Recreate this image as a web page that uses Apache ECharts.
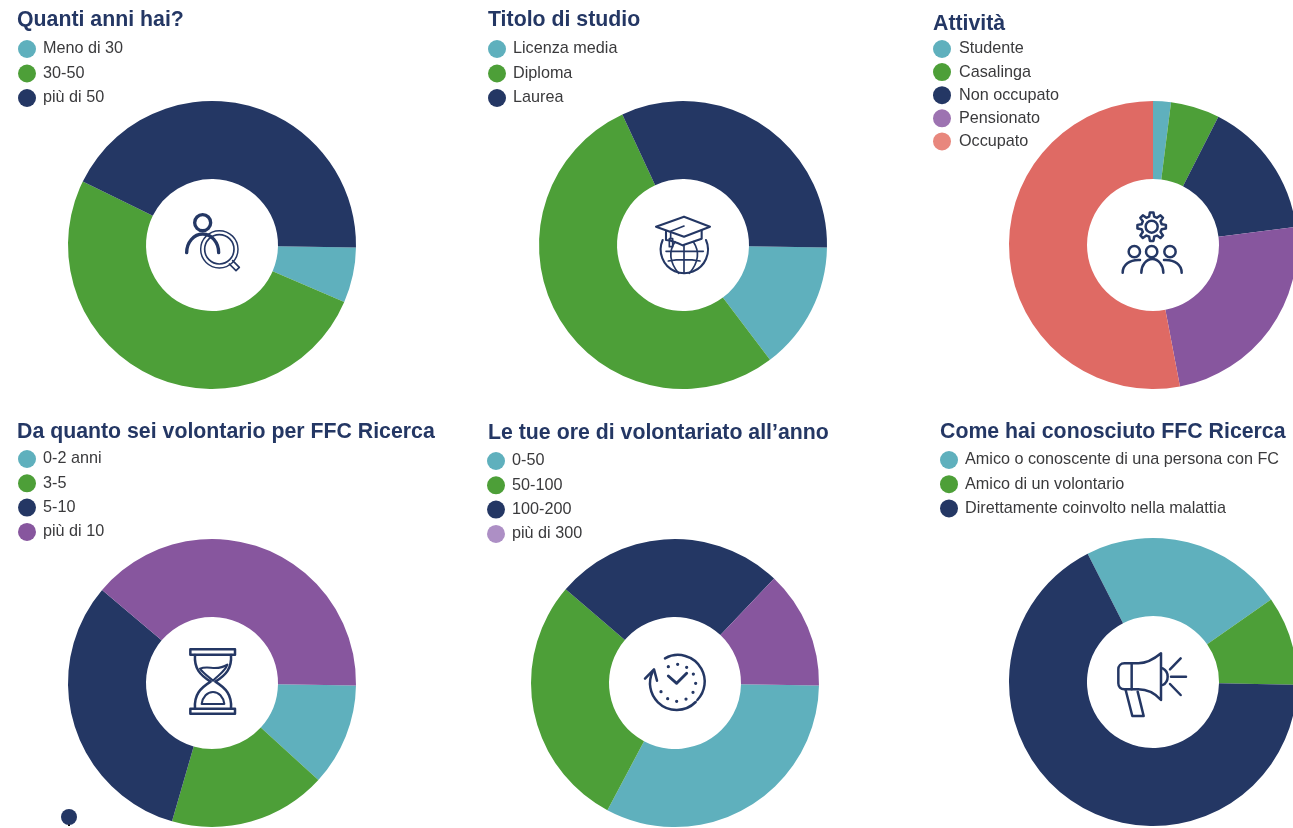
<!DOCTYPE html>
<html><head><meta charset="utf-8">
<style>html,body{margin:0;padding:0;background:#fff;overflow:hidden}#c{width:1293px;height:828px}</style>
<script src="https://cdn.jsdelivr.net/npm/echarts@6/dist/echarts.min.js"></script>
</head><body><div id="c"></div>
<script>
// Data (percent shares)
const etaNames = ['Meno di 30', '30-50', 'più di 50'];
const etaValues = [6.2, 50.8, 43];
const studioNames = ['Licenza media', 'Diploma', 'Laurea'];
const studioValues = [14.4, 53.4, 32.2];
const attivitaNames = ['Studente', 'Casalinga', 'Non occupato', 'Pensionato', 'Occupato'];
const attivitaValues = [2, 5.5, 15.5, 24, 53];
const anniNames = ['0-2 anni', '3-5', '5-10', 'più di 10'];
const anniValues = [11.5, 17.7, 31.7, 39.1];
const oreNames = ['0-50', '50-100', '100-200', 'più di 300'];
const oreValues = [32.5, 28.5, 25.8, 13.2];
const comeNames = ['Amico o conoscente di una persona con FC', 'Amico di un volontario', 'Direttamente coinvolto nella malattia'];
const comeValues = [22.8, 10, 67.2];

const titles = ['Quanti anni hai?', 'Titolo di studio', 'Attività',
  'Da quanto sei volontario per FFC Ricerca', 'Le tue ore di volontariato all’anno', 'Come hai conosciuto FFC Ricerca'];

const TEAL = '#5fb0bd', GREEN = '#4d9f38', NAVY = '#243764', PURPLE = '#87569e', CORAL = '#df6a64';
const panels = [
  {names: etaNames, values: etaValues, colors: [TEAL, GREEN, NAVY], c: [212, 245], start: -1, tx: 17, ty: 10, lx: 18, ly: 40, gap: 6.5, pad: 2},
  {names: studioNames, values: studioValues, colors: [TEAL, GREEN, NAVY], c: [683, 245], start: -1, tx: 488, ty: 10, lx: 488, ly: 40, gap: 6.5, pad: 2},
  {names: attivitaNames, values: attivitaValues, colors: [TEAL, GREEN, NAVY, PURPLE, CORAL], c: [1153, 245], start: 90, tx: 933, ty: 14, lx: 933, ly: 40, gap: 5.1, pad: 3,
    legendColors: [TEAL, GREEN, NAVY, '#9d73b1', '#e8877d']},
  {names: anniNames, values: anniValues, colors: [TEAL, GREEN, NAVY, PURPLE], c: [212, 683], start: -1, tx: 17, ty: 422, lx: 18, ly: 450, gap: 6.3, pad: 2},
  {names: oreNames, values: oreValues, colors: [TEAL, GREEN, NAVY, PURPLE], c: [675, 683], start: -1, tx: 488, ty: 423, lx: 487, ly: 452, gap: 6.3, pad: 2,
    legendColors: [TEAL, GREEN, NAVY, '#ad8fc5']},
  {names: comeNames, values: comeValues, colors: [TEAL, GREEN, NAVY], c: [1153, 682], start: 117, tx: 940, ty: 422, lx: 940, ly: 451, gap: 6.2, pad: 2}
];

const FONT = '"Liberation Sans", Arial, sans-serif';

// Decorative icons, drawn in 3x zoom coordinates of each hub
function icon(x, y, items) {
  return {type: 'group', x, y, scaleX: 1/3, scaleY: 1/3, children: items.map(it => ({
    type: 'path', shape: {pathData: it.d},
    style: {fill: it.fill || 'none', stroke: NAVY, lineWidth: (it.w || 6) * 1.25, lineCap: 'round', lineJoin: 'round'}
  }))};
}
function circ(cx, cy, r) { return `M${cx-r} ${cy}A${r} ${r} 0 1 1 ${cx+r} ${cy}A${r} ${r} 0 1 1 ${cx-r} ${cy}Z`; }
function gear(cx, cy, ro, ri, n) {
  let d = '';
  for (let k = 0; k < n; k++) {
    const a = (k / n) * 2 * Math.PI - Math.PI / 2, s = Math.PI / n;
    const pts = [[ri, a - s * 0.62], [ro, a - s * 0.32], [ro, a + s * 0.32], [ri, a + s * 0.62]];
    pts.forEach((q, j) => { d += ((k === 0 && j === 0) ? 'M' : 'L') + (cx + q[0] * Math.cos(q[1])).toFixed(1) + ' ' + (cy + q[0] * Math.sin(q[1])).toFixed(1); });
  }
  return d + 'Z';
}
const clockDots = [[175,110],[203,103],[230,112],[250,132],[257,160],[249,187],[228,207],[200,214],[173,206],[153,185]]
  .map(q => circ(q[0], q[1], 3)).join('');
const icons = [
  icon(130, 190, [
    {d: circ(218, 98, 24), w: 8},
    {d: 'M170 188A48 56 0 0 1 266 188', w: 8},
    {d: circ(268, 178, 56), w: 3.5},
    {d: circ(268, 178, 44), w: 4},
    {d: 'M298 222L318 242L328 232L308 212', w: 4}
  ]),
  icon(610, 190, [
    {d: 'M138 110L222 80L300 110L222 140Z', w: 5},
    {d: 'M168 124V150Q190 152 218 166L275 146V120', w: 5},
    {d: 'M222 108L182 124V146', w: 4},
    {d: 'M178 146H188V170H178Z', w: 4},
    {d: 'M158 150A71 71 0 1 0 288 150', w: 5},
    {d: 'M168 184H280M175 213Q222 205 270 213M222 166V250M195 155Q165 200 206 250M250 155Q280 200 238 250', w: 4}
  ]),
  icon(1090, 190, [
    {d: gear(185, 110, 43, 31, 8), w: 6},
    {d: circ(185, 110, 18), w: 6},
    {d: circ(133, 185, 17), w: 6},
    {d: circ(185, 185, 17), w: 6},
    {d: circ(240, 185, 17), w: 6},
    {d: 'M154 248A32 40 0 0 1 220 248', w: 6},
    {d: 'M98 248C98 225 118 208 150 210', w: 6},
    {d: 'M275 248C275 225 255 208 222 210', w: 6}
  ]),
  icon(150, 630, [
    {d: 'M121 58H255V74H121Z', w: 6},
    {d: 'M121 236H255V251H121Z', w: 6},
    {d: 'M135 75C132 115 150 135 182 155C150 175 132 195 135 235', w: 6},
    {d: 'M243 75C246 115 228 135 196 155C228 175 246 195 243 235', w: 6},
    {d: 'M150 116C175 105 200 125 232 104C225 125 205 135 189 152C175 140 160 130 150 116Z', w: 5},
    {d: 'M155 222C158 200 172 186 189 186C206 186 220 200 223 222Z', w: 5}
  ]),
  icon(610, 630, [
    {d: 'M165 85A80 80 0 0 1 262 210', w: 6},
    {d: 'M257 216A80 80 0 0 1 128 125', w: 6},
    {d: 'M105 146L132 118L141 152', w: 6},
    {d: 'M175 138L200 160L230 130', w: 7},
    {d: clockDots, w: 3, fill: NAVY}
  ]),
  icon(1090, 630, [
    {d: 'M103 100H145C170 100 195 85 213 70V210C195 190 170 178 145 178H103C92 178 85 170 85 160V118C85 108 92 100 103 100Z', w: 6},
    {d: 'M125 100V178', w: 6},
    {d: 'M107 180L127 258H161L143 185', w: 6},
    {d: 'M218 115C238 125 238 155 218 165', w: 6},
    {d: 'M240 118L272 85M243 140H288M240 162L272 195', w: 6}
  ])
];

const option = {
  backgroundColor: '#fff', animation: false,
  title: panels.map((p, i) => ({text: titles[i], left: p.tx, top: p.ty, padding: 0,
    textStyle: {fontFamily: FONT, fontWeight: 'bold', fontSize: 21.3, color: NAVY}})),
  legend: panels.map(p => ({
    orient: 'vertical', left: p.lx, top: p.ly, padding: 0, icon: 'circle', itemWidth: 18, itemHeight: 18,
    itemGap: p.gap, selectedMode: false,
    textStyle: {fontFamily: FONT, fontSize: 16.2, color: '#3a3a3c', padding: [0, 0, 0, p.pad]},
    data: p.names.map((n, i) => ({name: n, itemStyle: {color: (p.legendColors || p.colors)[i]}}))
  })),
  series: [
    ...panels.map(p => ({
      type: 'pie', center: p.c, radius: [66, 144], startAngle: p.start, clockwise: true, silent: true,
      label: {show: false}, labelLine: {show: false}, emphasis: {disabled: true},
      data: p.names.map((n, i) => ({name: n, value: p.values[i], itemStyle: {color: p.colors[i]}}))
    })),
    {type: 'custom', coordinateSystem: 'none', silent: true, z: 5, data: [0],
      renderItem: () => ({type: 'group', children: icons})}
  ],
  graphic: {elements: [
    {type: 'circle', silent: true, shape: {cx: 69, cy: 817, r: 8}, style: {fill: NAVY}},
    {type: 'rect', silent: true, shape: {x: 68, y: 824.5, width: 2, height: 1.5}, style: {fill: '#111'}}
  ]}
};
echarts.init(document.getElementById('c'), null, {renderer: 'canvas'}).setOption(option);
</script></body></html>
